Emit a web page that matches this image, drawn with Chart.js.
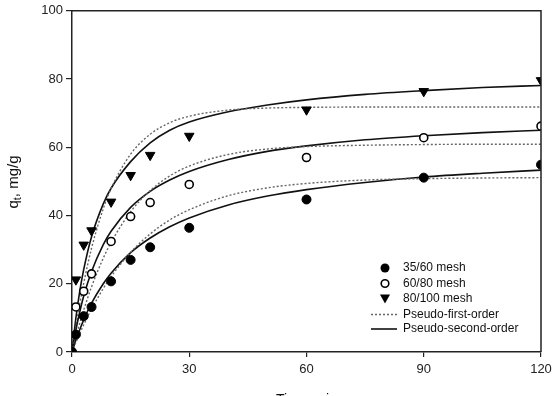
<!DOCTYPE html>
<html>
<head>
<meta charset="utf-8">
<script src="https://cdn.jsdelivr.net/npm/chart.js@4"></script>
<style>
  html, body { margin: 0; padding: 0; background: #fff; }
  #wrap { width: 557px; height: 396px; }
</style>
</head>
<body>
<div id="wrap"><canvas id="kinetics"></canvas></div>
<script>
// measured points (time in min, q in mg/g)
const tPoints = [0, 1, 3, 5, 10, 15, 20, 30, 60, 90, 120];
const mesh3560 = [0, 5.1, 10.5, 13.2, 20.7, 27.0, 30.7, 36.4, 44.7, 51.1, 54.9];
const mesh6080 = [0, 13.2, 17.8, 22.9, 32.4, 39.7, 43.8, 49.1, 57.0, 62.8, 66.2];
const tTri = [1, 3, 5, 10, 15, 20, 30, 60, 90, 120];
const mesh80100 = [21.2, 31.4, 35.6, 44.0, 51.8, 57.7, 63.3, 71.0, 76.4, 79.6];

// fitted curves
const tFit = [0, 1, 2, 3, 5, 8, 10, 15, 20, 25, 30, 40, 50, 60, 75, 90, 105, 120];
const pfo3560 = [0, 2.8, 5.5, 8.0, 12.6, 18.6, 22.1, 29.2, 34.6, 38.7, 41.7, 45.8, 48.1, 49.4, 50.4, 50.8, 51.0, 51.1];
const pso3560 = [0, 3.5, 6.6, 9.4, 14.3, 20.0, 23.1, 29.1, 33.4, 36.7, 39.3, 43.1, 45.7, 47.6, 49.7, 51.3, 52.4, 53.3];
const pfo6080 = [0, 4.4, 8.5, 12.3, 19.1, 27.5, 32.1, 41.1, 47.3, 51.6, 54.5, 57.9, 59.5, 60.2, 60.6, 60.8, 60.9, 60.9];
const pso6080 = [0, 6.5, 11.8, 16.4, 23.6, 31.5, 35.4, 42.4, 47.1, 50.4, 52.9, 56.4, 58.8, 60.4, 62.2, 63.4, 64.3, 65.0];
const pfo80100 = [0, 7.5, 14.2, 20.2, 30.4, 42.0, 47.9, 58.0, 63.8, 67.2, 69.1, 70.9, 71.5, 71.7, 71.8, 71.8, 71.8, 71.8];
const pso80100 = [0, 10.0, 17.9, 24.2, 33.8, 43.4, 48.0, 55.8, 61.3, 65.0, 67.4, 70.4, 72.4, 73.9, 75.5, 76.6, 77.5, 78.1];

const xTicks = [0, 30, 60, 90, 120];
const yTicks = [0, 20, 40, 60, 80, 100];

const toXY = (xs, ys) => ys.map((y, i) => ({ x: xs[i], y: y }));
const FONT = "'Liberation Sans', Arial, sans-serif";

const fitLine = (label, data, dotted) => ({
  type: "line",
  label: label,
  data: toXY(tFit, data),
  borderColor: dotted ? "#666" : "#111",
  borderWidth: dotted ? 1.4 : 1.6,
  borderDash: dotted ? [2, 2] : [],
  pointRadius: 0,
  fill: false,
  cubicInterpolationMode: "monotone",
  order: 5,
});

// top/right frame, legend and titles
const extras = {
  id: "extras",
  afterDraw(chart) {
    const { ctx, chartArea: a } = chart;
    ctx.save();
    ctx.strokeStyle = "#222";
    ctx.lineWidth = 1.5;
    ctx.beginPath();
    ctx.moveTo(a.left, a.top);
    ctx.lineTo(a.right, a.top);
    ctx.lineTo(a.right, a.bottom);
    ctx.stroke();

    // legend
    const lx = 385, tx = 403;
    const rows = [268, 283.5, 298.5, 314.5, 329];
    ctx.font = "12px " + FONT;
    ctx.fillStyle = "#111";
    ctx.textBaseline = "middle";
    const names = ["35/60 mesh", "60/80 mesh", "80/100 mesh", "Pseudo-first-order", "Pseudo-second-order"];
    names.forEach((n, i) => ctx.fillText(n, tx, rows[i]));
    ctx.fillStyle = "#000";
    ctx.beginPath();
    ctx.arc(lx, rows[0], 4.5, 0, Math.PI * 2);
    ctx.fill();
    ctx.beginPath();
    ctx.lineWidth = 1.6;
    ctx.arc(lx, rows[1], 3.8, 0, Math.PI * 2);
    ctx.strokeStyle = "#000";
    ctx.stroke();
    ctx.beginPath();
    ctx.moveTo(lx - 5, rows[2] - 4);
    ctx.lineTo(lx + 5, rows[2] - 4);
    ctx.lineTo(lx, rows[2] + 5);
    ctx.closePath();
    ctx.fill();
    ctx.setLineDash([2, 2]);
    ctx.strokeStyle = "#666";
    ctx.lineWidth = 1.4;
    ctx.beginPath();
    ctx.moveTo(371, rows[3]);
    ctx.lineTo(397, rows[3]);
    ctx.stroke();
    ctx.setLineDash([]);
    ctx.strokeStyle = "#111";
    ctx.lineWidth = 1.6;
    ctx.beginPath();
    ctx.moveTo(371, rows[4]);
    ctx.lineTo(397, rows[4]);
    ctx.stroke();

    // y title: q_t, mg/g
    ctx.save();
    ctx.translate(18, 182);
    ctx.rotate(-Math.PI / 2);
    ctx.textBaseline = "alphabetic";
    ctx.fillStyle = "#111";
    ctx.font = "15px " + FONT;
    const w1 = ctx.measureText("q").width;
    ctx.font = "11px " + FONT;
    const w2 = ctx.measureText("t").width;
    ctx.font = "15px " + FONT;
    const w3 = ctx.measureText(", mg/g").width;
    let x0 = -(w1 + w2 + w3) / 2;
    ctx.fillText("q", x0, 0);
    ctx.font = "11px " + FONT;
    ctx.fillText("t", x0 + w1, 3);
    ctx.font = "15px " + FONT;
    ctx.fillText(", mg/g", x0 + w1 + w2, 0);
    ctx.restore();

    // x title, mostly below the page edge
    ctx.font = "14px " + FONT;
    ctx.textAlign = "center";
    ctx.textBaseline = "top";
    ctx.fillStyle = "#111";
    ctx.fillText("Time, min", (a.left + a.right) / 2, 393);
    ctx.restore();
  },
};

new Chart(document.getElementById("kinetics"), {
  type: "scatter",
  data: {
    datasets: [
      {
        label: "35/60 mesh",
        data: toXY(tPoints, mesh3560),
        pointStyle: "circle",
        pointRadius: 4.5,
        backgroundColor: "#000",
        borderColor: "#000",
        borderWidth: 1,
        order: 1,
      },
      {
        label: "60/80 mesh",
        data: toXY(tPoints, mesh6080),
        pointStyle: "circle",
        pointRadius: 4,
        backgroundColor: "#fff",
        borderColor: "#000",
        borderWidth: 1.6,
        order: 2,
      },
      {
        label: "80/100 mesh",
        data: toXY(tTri, mesh80100),
        pointStyle: "triangle",
        rotation: 180,
        pointRadius: 5.5,
        backgroundColor: "#000",
        borderColor: "#000",
        borderWidth: 1,
        order: 3,
      },
      fitLine("PFO 35/60", pfo3560, true),
      fitLine("PSO 35/60", pso3560, false),
      fitLine("PFO 60/80", pfo6080, true),
      fitLine("PSO 60/80", pso6080, false),
      fitLine("PFO 80/100", pfo80100, true),
      fitLine("PSO 80/100", pso80100, false),
    ],
  },
  options: {
    responsive: true,
    maintainAspectRatio: false,
    animation: false,
    layout: { padding: { left: 0, right: 16, top: 10, bottom: 0 } },
    plugins: {
      legend: { display: false },
      tooltip: { enabled: false },
    },
    scales: {
      x: {
        type: "linear",
        min: 0,
        max: 120,
        afterBuildTicks: (s) => { s.ticks = xTicks.map((v) => ({ value: v })); },
        afterFit: (s) => { s.height = 44; },
        border: { color: "#222", width: 1.5 },
        grid: { drawOnChartArea: false, drawTicks: true, tickLength: 5, color: "#222", lineWidth: 1.2 },
        ticks: { color: "#222", font: { family: FONT, size: 13 }, padding: 5, maxRotation: 0 },
      },
      y: {
        min: 0,
        max: 100,
        afterBuildTicks: (s) => { s.ticks = yTicks.map((v) => ({ value: v })); },
        afterFit: (s) => { s.width = 72; },
        border: { color: "#222", width: 1.5 },
        grid: { drawOnChartArea: false, drawTicks: true, tickLength: 6, color: "#222", lineWidth: 1.2 },
        ticks: { color: "#222", font: { family: FONT, size: 13 }, padding: 3 },
      },
    },
  },
  plugins: [extras],
});
</script>
</body>
</html>
